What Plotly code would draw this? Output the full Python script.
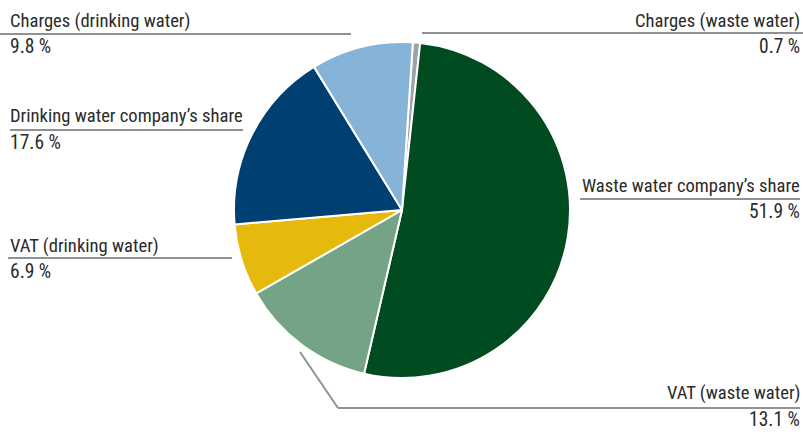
import plotly.graph_objects as go

# Cost components of the water bill (share of total, %)
categories = [
    "Charges (waste water)",
    "Waste water company’s share",
    "VAT (waste water)",
    "VAT (drinking water)",
    "Drinking water company’s share",
    "Charges (drinking water)",
]
shares = [0.7, 51.9, 13.1, 6.9, 17.6, 9.8]
colors = ["#9ea3a8", "#004b1f", "#74a386", "#e6b90d", "#003f71", "#86b3d8"]

W, H = 803, 432
FONT = "Liberation Sans Narrow, Roboto Condensed, Arial Narrow, Roboto, sans-serif"
TEXT_COLOR = "#2b2b2b"
LINE_COLOR = "#8e9297"

# pie placement in pixels (center, radius)
cx, cy, r = 402, 210, 168


def px(x):
    return x / W


def py(y):
    return 1 - y / H


fig = go.Figure(
    go.Pie(
        labels=categories,
        values=shares,
        sort=False,
        direction="clockwise",
        rotation=3.7,
        marker=dict(colors=colors, line=dict(color="white", width=2)),
        textinfo="none",
        hoverinfo="label+percent",
        showlegend=False,
        domain=dict(x=[px(cx - r), px(cx + r)], y=[py(cy + r), py(cy - r)]),
    )
)

# label layout: (text index, anchor side, x, label y, rule y, value y, rule x0, rule x1)
label_layout = [
    (5, "left", 8, 21, 34, 47, 0, 351),
    (0, "right", 802, 21, 33, 47, 422, 803),
    (4, "left", 8, 116, 130, 142, 10, 243),
    (3, "left", 8, 246, 258, 271, 8, 232),
    (1, "right", 802, 186, 199, 211, 580, 800),
    (2, "right", 802, 393, 408, 419, 338, 800),
]

annotations = []
shapes = []
for idx, side, x, ly, ry, vy, x0, x1 in label_layout:
    for text, yy, size in ((categories[idx], ly, 18.6), (f"{shares[idx]:.1f} %", vy, 19.5)):
        annotations.append(
            dict(
                text=text,
                x=px(x),
                y=py(yy),
                xref="paper",
                yref="paper",
                xanchor=side,
                yanchor="middle",
                showarrow=False,
                font=dict(family=FONT, size=size, color=TEXT_COLOR),
            )
        )
    shapes.append(
        dict(
            type="line",
            xref="paper",
            yref="paper",
            x0=px(x0),
            x1=px(x1),
            y0=py(ry),
            y1=py(ry),
            line=dict(color=LINE_COLOR, width=2),
        )
    )

# leader from the VAT (waste water) slice down to its rule
shapes.append(
    dict(
        type="line",
        xref="paper",
        yref="paper",
        x0=px(300),
        y0=py(352),
        x1=px(338),
        y1=py(408),
        line=dict(color=LINE_COLOR, width=2),
    )
)

fig.update_layout(
    width=W,
    height=H,
    margin=dict(l=0, r=0, t=0, b=0),
    paper_bgcolor="white",
    plot_bgcolor="white",
    annotations=annotations,
    shapes=shapes,
)

fig.write_html("out.html")
